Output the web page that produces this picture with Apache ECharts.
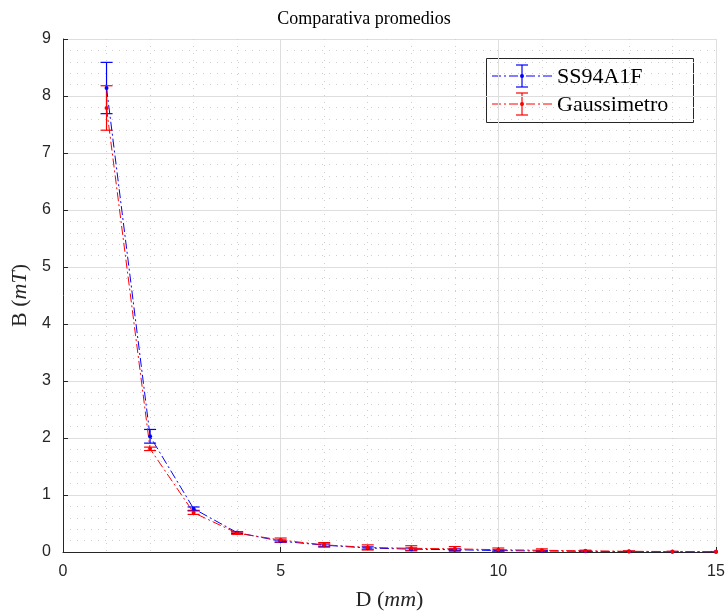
<!DOCTYPE html>
<html>
<head>
<meta charset="utf-8">
<script src="https://cdn.jsdelivr.net/npm/echarts@6/dist/echarts.min.js"></script>
<style>
  html, body { margin: 0; padding: 0; background: #fff; overflow: hidden; }
  #chart { width: 728px; height: 616px; }
</style>
</head>
<body>
<div id="chart"></div>
<script>
// D (mm)
const distances = [1, 2, 3, 4, 5, 6, 7, 8, 9, 10, 11, 12, 13, 14, 15];
// SS94A1F sensor, mean and error (mT)
const sensorMean = [8.14, 2.03, 0.76, 0.34, 0.19, 0.12, 0.07, 0.05, 0.04, 0.025, 0.018, 0.012, 0.008, 0.005, 0.003];
const sensorErr = [0.45, 0.12, 0.03, 0.015, 0.02, 0.02, 0.02, 0.02, 0.015, 0.012, 0.01, 0.008, 0.005, 0.003, 0.002];
// Gaussimetro, mean and error (mT)
const gaussMean = [7.79, 1.81, 0.69, 0.33, 0.21, 0.125, 0.08, 0.065, 0.055, 0.04, 0.03, 0.02, 0.012, 0.008, 0.005];
const gaussErr = [0.39, 0.03, 0.03, 0.02, 0.035, 0.04, 0.045, 0.045, 0.04, 0.03, 0.025, 0.012, 0.008, 0.005, 0.003];

const seriesNames = ["SS94A1F", "Gaussimetro"];
const BLUE = "#0000ff";
const RED = "#ff0000";
const DASHDOT = [9, 3, 2, 3];
const serif = "'Liberation Serif', 'DejaVu Serif', serif";
const sans = "'Liberation Sans', Arial, sans-serif";

function errorData(mean, err) {
  return distances.map((d, i) => [d, mean[i] - err[i], mean[i] + err[i]]);
}

function errorBars(name, color, mean, err) {
  return {
    name: name,
    type: "custom",
    z: 3,
    data: errorData(mean, err),
    encode: { x: 0, y: [1, 2] },
    renderItem: function (params, api) {
      const lo = api.coord([api.value(0), api.value(1)]);
      const hi = api.coord([api.value(0), api.value(2)]);
      const hw = 6;
      const style = { stroke: color, lineWidth: 1.2 };
      return {
        type: "group",
        children: [
          { type: "line", shape: { x1: lo[0], y1: lo[1], x2: hi[0], y2: hi[1] }, style },
          { type: "line", shape: { x1: lo[0] - hw, y1: lo[1], x2: lo[0] + hw, y2: lo[1] }, style },
          { type: "line", shape: { x1: hi[0] - hw, y1: hi[1], x2: hi[0] + hw, y2: hi[1] }, style }
        ]
      };
    },
    clip: true
  };
}

function lineSeries(name, color, mean) {
  return {
    name: name,
    type: "line",
    z: 4,
    data: distances.map((d, i) => [d, mean[i]]),
    symbol: "circle",
    symbolSize: 4,
    itemStyle: { color: color },
    lineStyle: { color: color, width: 1, type: DASHDOT },
    animation: false
  };
}

// legend drawn as graphic so it can show the error-bar glyph
function legendEntry(y, color, label) {
  const style = { stroke: color, lineWidth: 1.2 };
  return [
    { type: "line", shape: { x1: 492, y1: y, x2: 552, y2: y }, style: { stroke: color, lineWidth: 1, lineDash: DASHDOT } },
    { type: "line", shape: { x1: 522, y1: y - 11, x2: 522, y2: y + 11 }, style },
    { type: "line", shape: { x1: 516, y1: y - 11, x2: 528, y2: y - 11 }, style },
    { type: "line", shape: { x1: 516, y1: y + 11, x2: 528, y2: y + 11 }, style },
    { type: "circle", shape: { cx: 522, cy: y, r: 2 }, style: { fill: color } },
    { type: "text", style: { x: 557, y: y + 1, text: label, fill: "#000", font: "22px " + serif, textVerticalAlign: "middle" } }
  ];
}

const nameRich = {
  a: { fontFamily: serif, fontSize: 22, color: "#262626" },
  b: { fontFamily: serif, fontSize: 22, fontStyle: "italic", color: "#262626" }
};

const chart = echarts.init(document.getElementById("chart"));
chart.setOption({
  animation: false,
  backgroundColor: "#fff",
  title: {
    text: "Comparativa promedios",
    left: "center",
    top: 5,
    textStyle: { fontFamily: serif, fontSize: 18, fontWeight: "normal", color: "#000" }
  },
  grid: { left: 63, right: 12, top: 39, bottom: 63 },
  xAxis: {
    type: "value",
    min: 0,
    max: 15,
    interval: 5,
    name: "{a|D (}{b|mm}{a|)}",
    nameLocation: "middle",
    nameGap: 37,
    nameTextStyle: { rich: nameRich },
    axisLine: { onZero: false, lineStyle: { color: "#262626", width: 1 } },
    axisTick: { inside: true, length: 5, lineStyle: { color: "#262626" } },
    axisLabel: { fontFamily: sans, fontSize: 16, color: "#262626", margin: 12 },
    splitLine: { show: true, lineStyle: { color: "#dedede", width: 1 } },
    minorTick: { show: false, splitNumber: 5 },
    minorSplitLine: { show: true, lineStyle: { color: "#cfcfcf", width: 1, type: [1, 6] } }
  },
  yAxis: {
    type: "value",
    min: 0,
    max: 9,
    interval: 1,
    name: "{a|B (}{b|mT}{a|)}",
    nameLocation: "middle",
    nameGap: 26,
    nameTextStyle: { rich: nameRich },
    axisLine: { show: true, onZero: false, lineStyle: { color: "#262626", width: 1 } },
    axisTick: { show: true, inside: true, length: 5, lineStyle: { color: "#262626" } },
    axisLabel: { fontFamily: sans, fontSize: 16, color: "#262626", margin: 12 },
    splitLine: { show: true, lineStyle: { color: "#dedede", width: 1 } },
    minorTick: { show: false, splitNumber: 5 },
    minorSplitLine: { show: true, lineStyle: { color: "#cfcfcf", width: 1, type: [1, 6] } }
  },
  series: [
    lineSeries(seriesNames[0], BLUE, sensorMean),
    errorBars(seriesNames[0], BLUE, sensorMean, sensorErr),
    lineSeries(seriesNames[1], RED, gaussMean),
    errorBars(seriesNames[1], RED, gaussMean, gaussErr)
  ],
  graphic: [
    {
      type: "group",
      z: 100,
      children: [
        { type: "rect", shape: { x: 486.5, y: 58.5, width: 207, height: 64 }, style: { fill: "#fff", stroke: "#262626", lineWidth: 1 } }
      ].concat(legendEntry(76, BLUE, seriesNames[0]), legendEntry(104, RED, seriesNames[1]))
    }
  ]
});
</script>
</body>
</html>
